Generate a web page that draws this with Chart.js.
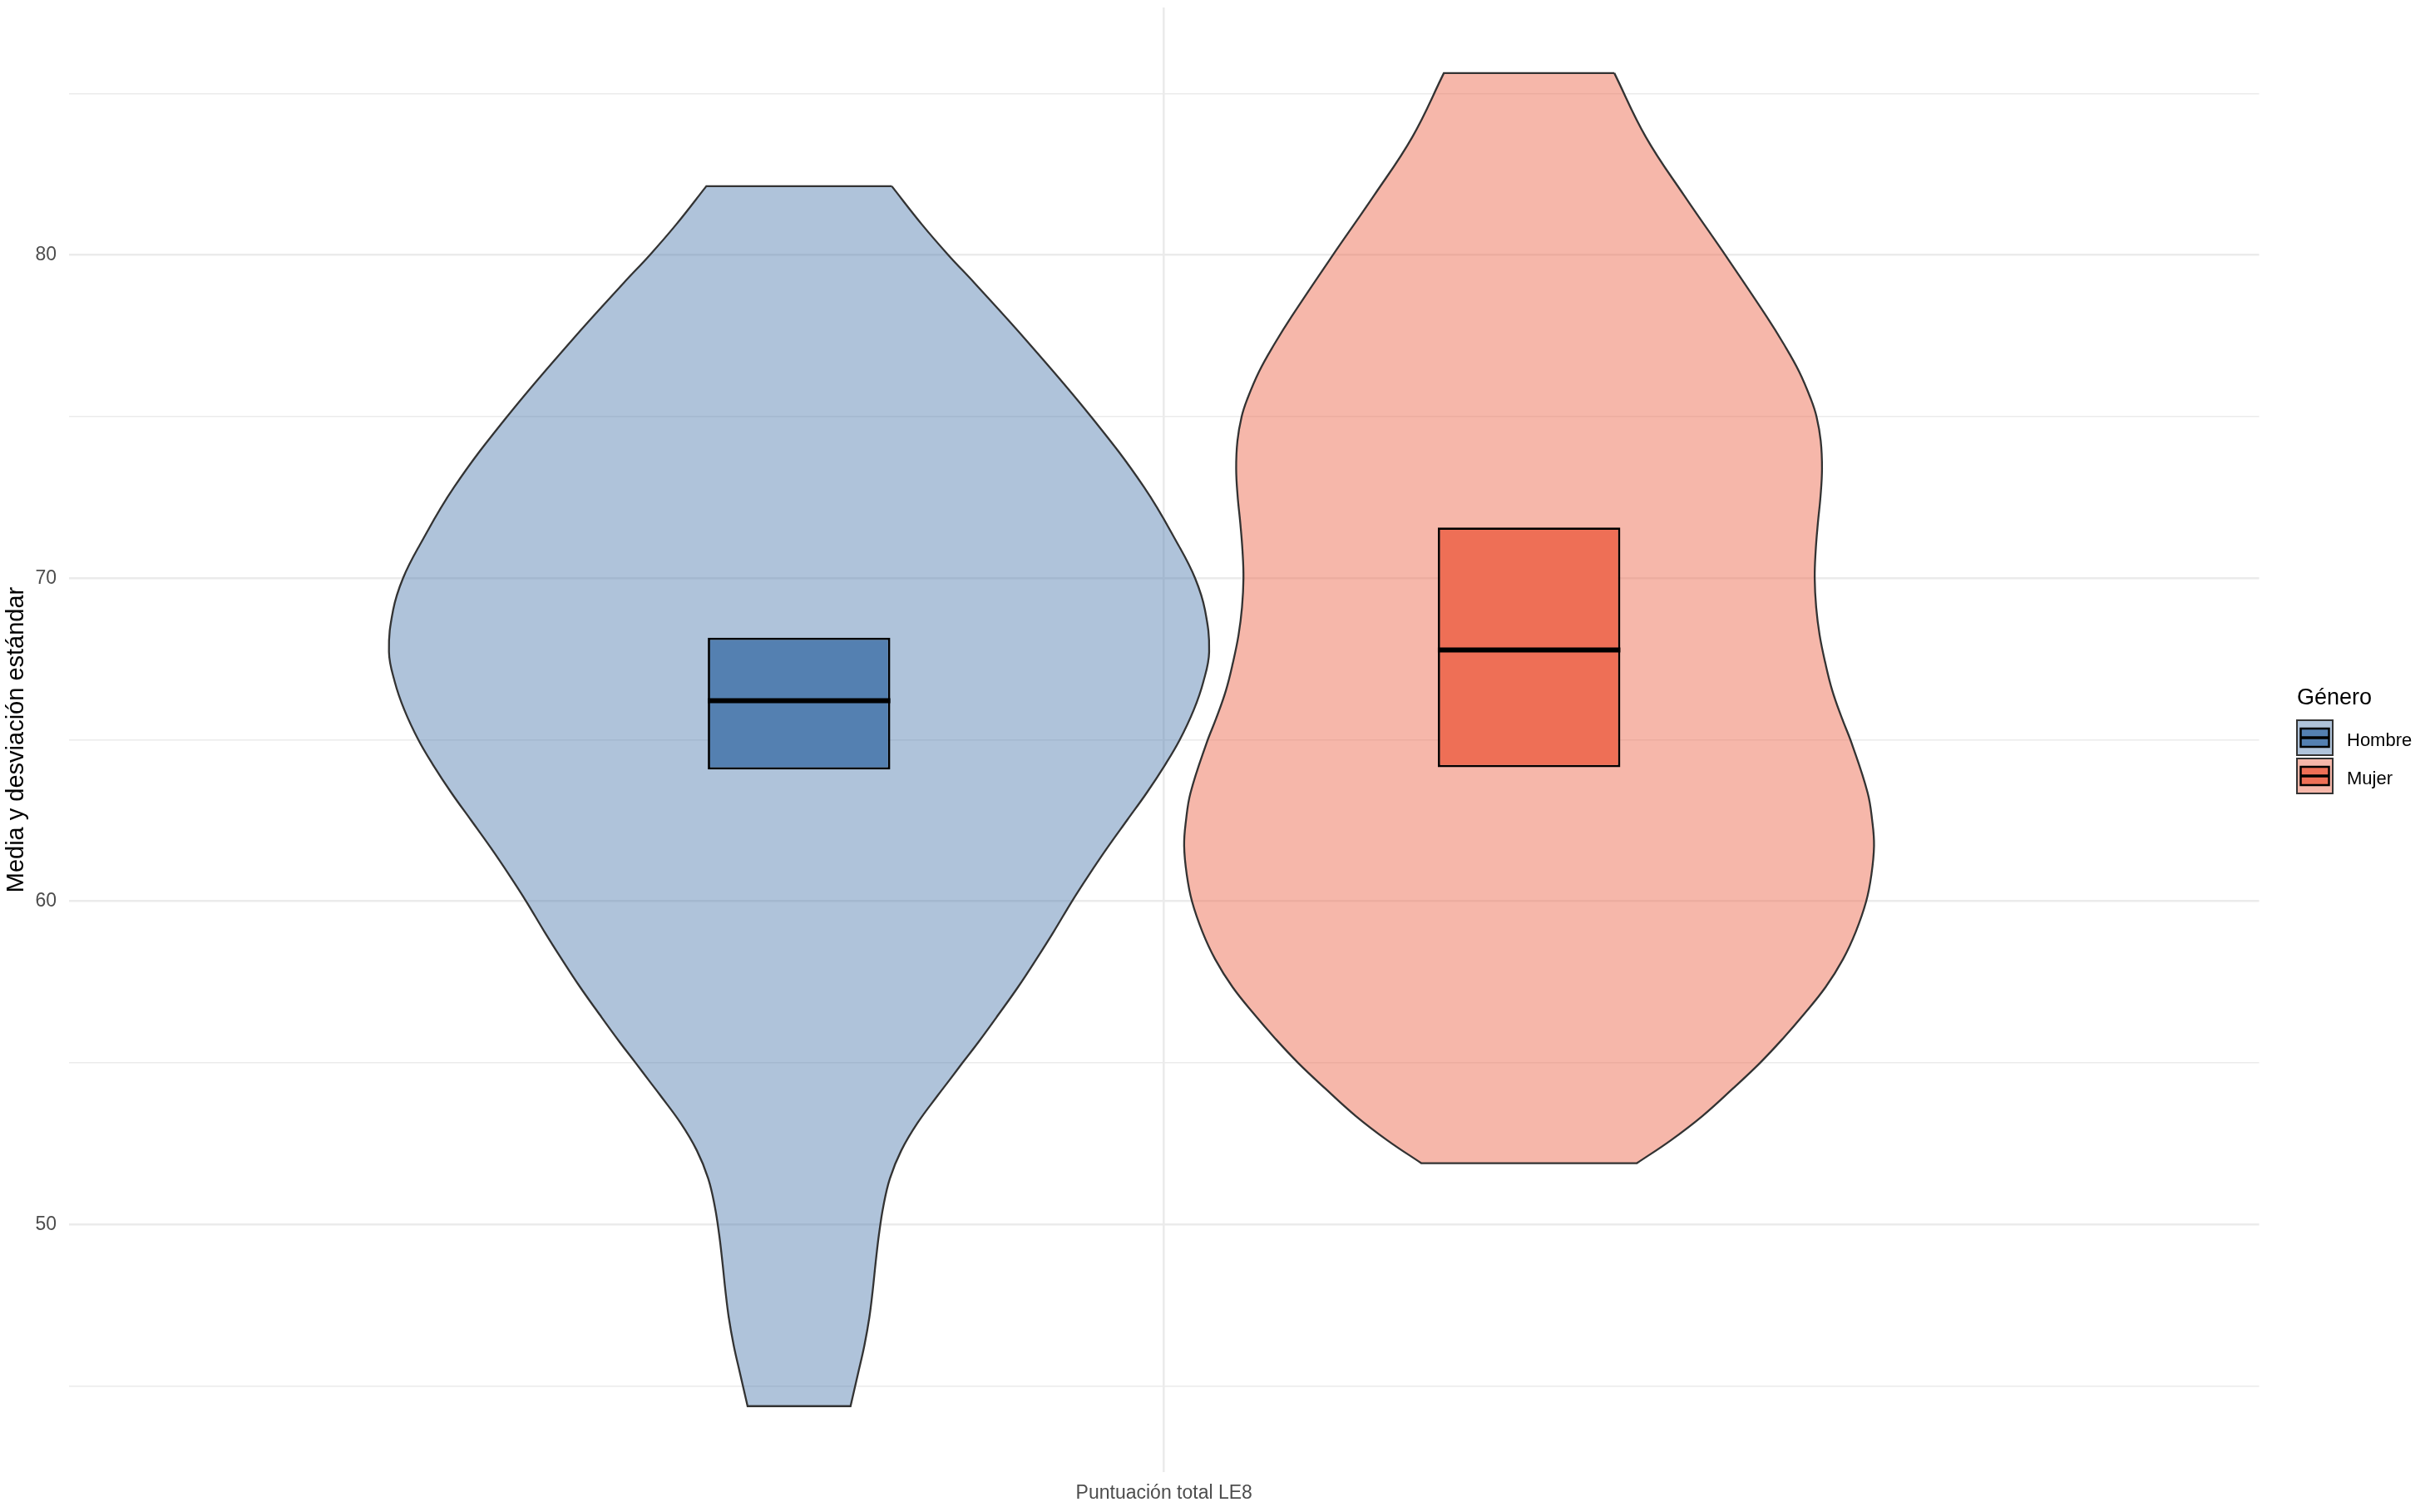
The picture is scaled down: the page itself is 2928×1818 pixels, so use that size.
<!DOCTYPE html>
<html lang="es">
<head>
<meta charset="utf-8">
<title>Puntuación total LE8 por género</title>
<script src="https://cdn.jsdelivr.net/npm/chart.js@4.4.1/dist/chart.umd.min.js"></script>
<style>
    html, body { margin: 0; padding: 0; background: #ffffff; }
    #wrap { width: 2928px; height: 1818px; position: relative; }
</style>
</head>
<body>
<div id="wrap"><canvas id="violinChart"></canvas></div>
<script>
// ---- data ----
const categories = ['Puntuación total LE8'];
const groups = ['Hombre', 'Mujer'];

// box = media +/- desviación estándar, centre line
const boxLow = [64.08, 64.15];
const boxHigh = [68.16, 71.57];
const centreLine = [66.21, 67.78];

// violin outlines: score and half width of the density (x units), top to bottom
const hombreY = [82.13, 80.94, 80.0, 79.13, 77.33, 75.0, 72.82, 71.01, 70.0, 69.02, 67.72, 66.79, 65.93,
    65.0, 64.22, 63.36, 62.51, 61.65, 60.79, 60.0, 59.06, 58.21, 57.35, 56.5, 55.64, 55.0, 54.44,
    54.01, 53.15, 52.29, 51.43, 50.57, 49.7, 48.84, 47.98, 47.12, 46.26, 45.41, 44.38];
const hombreWidth = [0.0508, 0.0674, 0.0818, 0.0962, 0.125, 0.160, 0.189, 0.208, 0.217, 0.2224, 0.2247, 0.2215, 0.2163,
    0.2086, 0.2005, 0.1905, 0.1797, 0.1688, 0.1585, 0.1495, 0.1395, 0.13, 0.12, 0.1093, 0.0982, 0.0895, 0.082,
    0.0762, 0.065, 0.056, 0.0498, 0.0462, 0.0438, 0.042, 0.0404, 0.0385, 0.0358, 0.0324, 0.0282];

const mujerY = [85.63, 83.65, 81.84, 80.0, 78.11, 77.25, 76.39, 75.53, 75.0, 74.25, 73.39, 72.54, 71.68,
    70.82, 70.0, 69.1, 68.24, 67.38, 66.53, 65.67, 64.9, 63.36, 62.5, 61.72, 60.8, 60.0, 59.06, 58.21,
    57.35, 56.5, 55.75, 55.0, 54.2, 53.36, 52.6, 51.9];
const mujerWidth = [0.0467, 0.064, 0.085, 0.1075, 0.13, 0.1395, 0.148, 0.1545, 0.1575, 0.1598, 0.1605, 0.1597, 0.1582,
    0.157, 0.1565, 0.1573, 0.1592, 0.1623, 0.1661, 0.1714, 0.1767, 0.1855, 0.188, 0.189, 0.1875, 0.1847, 0.179, 0.172,
    0.1625, 0.1505, 0.139, 0.1265, 0.1115, 0.095, 0.0775, 0.0591];

const yMajorTicks = [50, 60, 70, 80];
const yMinorTicks = [45, 55, 65, 75, 85];

// ---- layout / style ----
const dodge = [-0.2, 0.2];      // group positions around the single category
const boxHalf = 0.05;
const boxColors = ['#5480b1', '#ee6f56'];
const violinColors = ['rgba(84, 128, 177, 0.47)', 'rgba(238, 111, 86, 0.5)'];
const fontFamily = "'Liberation Sans', Arial, Helvetica, sans-serif";
const gridColor = '#ebebeb';

// closed outline of one violin; end points are doubled so the flat ends stay sharp
function violinOutline(center, ys, widths) {
    const right = ys.map((y, i) => ({ x: center + widths[i], y: y }));
    const left = ys.map((y, i) => ({ x: center - widths[i], y: y })).reverse();
    const pts = [];
    pts.push({ ...right[0] });
    right.forEach(p => pts.push({ ...p }));
    pts.push({ ...right[right.length - 1] });
    pts.push({ ...left[0] });
    left.forEach(p => pts.push({ ...p }));
    pts.push({ ...left[left.length - 1] });
    pts.push({ ...right[0] });
    return pts;
}

const violinData = [[hombreY, hombreWidth], [mujerY, mujerWidth]];

const datasets = [];

groups.forEach((g, i) => {
    datasets.push({
        type: 'scatter',
        label: g,
        data: violinOutline(dodge[i], violinData[i][0], violinData[i][1]),
        showLine: true,
        tension: 0.4,
        fill: 'shape',
        backgroundColor: violinColors[i],
        borderColor: '#333333',
        borderWidth: 2.3,
        pointRadius: 0,
        order: 2
    });
});

datasets.push({
    type: 'bar',
    label: 'Media ± DE',
    data: groups.map((g, i) => ({ x: dodge[i], y: [boxLow[i], boxHigh[i]] })),
    backgroundColor: boxColors,
    borderColor: '#000000',
    borderWidth: 2.8,
    borderSkipped: false,
    categoryPercentage: 1,
    barPercentage: 0.25,
    order: 1
});

groups.forEach((g, i) => {
    datasets.push({
        type: 'scatter',
        label: g + ' media',
        data: [
            { x: dodge[i] - boxHalf, y: centreLine[i] },
            { x: dodge[i] + boxHalf, y: centreLine[i] }
        ],
        showLine: true,
        fill: false,
        borderColor: '#000000',
        borderWidth: 6,
        borderCapStyle: 'butt',
        pointRadius: 0,
        order: 0
    });
});

// legend drawn like the ggplot guide (violin key with a box inside)
const generoLegend = {
    id: 'generoLegend',
    afterDraw(chart) {
        const ctx = chart.ctx;
        const left = 2762;
        ctx.save();
        ctx.fillStyle = '#000000';
        ctx.font = '27px ' + fontFamily;
        ctx.textBaseline = 'alphabetic';
        ctx.textAlign = 'left';
        ctx.fillText('Género', left, 847);

        groups.forEach((g, i) => {
            const top = 866 + i * 46;
            ctx.fillStyle = '#ffffff';
            ctx.fillRect(left, top, 43, 42);
            ctx.fillStyle = violinColors[i];
            ctx.fillRect(left, top, 43, 42);
            ctx.strokeStyle = '#333333';
            ctx.lineWidth = 2;
            ctx.strokeRect(left, top, 43, 42);

            ctx.fillStyle = boxColors[i];
            ctx.fillRect(left + 4.5, top + 10, 34, 22);
            ctx.strokeStyle = '#000000';
            ctx.lineWidth = 2.5;
            ctx.strokeRect(left + 4.5, top + 10, 34, 22);
            ctx.lineWidth = 3.3;
            ctx.beginPath();
            ctx.moveTo(left + 4.5, top + 21);
            ctx.lineTo(left + 38.5, top + 21);
            ctx.stroke();

            ctx.fillStyle = '#000000';
            ctx.font = '22px ' + fontFamily;
            ctx.fillText(g, 2822, top + 31);
        });
        ctx.restore();
    }
};

new Chart(document.getElementById('violinChart'), {
    type: 'scatter',
    data: { datasets: datasets },
    options: {
        responsive: true,
        maintainAspectRatio: false,
        animation: false,
        layout: {
            padding: { left: 0, right: 211.5, top: 9, bottom: 0 }
        },
        plugins: {
            legend: { display: false },
            tooltip: { enabled: false }
        },
        scales: {
            x: {
                type: 'linear',
                min: -0.6,
                max: 0.6,
                offset: false,
                afterBuildTicks: function (scale) {
                    scale.ticks = [{ value: 0 }];
                },
                afterFit: function (scale) {
                    scale.height = 48;
                    scale.paddingLeft = 0;
                    scale.paddingRight = 0;
                },
                ticks: {
                    callback: () => categories[0],
                    padding: 12,
                    color: '#4d4d4d',
                    font: { family: fontFamily, size: 23 }
                },
                grid: { color: gridColor, lineWidth: 2.6, drawTicks: false, offset: false },
                border: { display: false }
            },
            y: {
                type: 'linear',
                min: 42.34,
                max: 87.66,
                afterBuildTicks: function (scale) {
                    scale.ticks = yMinorTicks.concat(yMajorTicks)
                        .sort((a, b) => a - b)
                        .map(v => ({ value: v }));
                },
                afterFit: function (scale) {
                    scale.width = 83;
                    scale.paddingTop = 0;
                    scale.paddingBottom = 0;
                },
                ticks: {
                    callback: v => yMajorTicks.includes(v) ? String(v) : '',
                    padding: 15,
                    color: '#4d4d4d',
                    font: { family: fontFamily, size: 23 }
                },
                grid: {
                    color: gridColor,
                    lineWidth: ctx => yMajorTicks.includes(ctx.tick.value) ? 2.6 : 1.4,
                    drawTicks: false
                },
                border: { display: false },
                title: {
                    display: true,
                    text: 'Media y desviación estándar',
                    color: '#000000',
                    font: { family: fontFamily, size: 29 },
                    padding: { top: 2.6, bottom: 0 }
                }
            }
        }
    },
    plugins: [generoLegend]
});
</script>
</body>
</html>
